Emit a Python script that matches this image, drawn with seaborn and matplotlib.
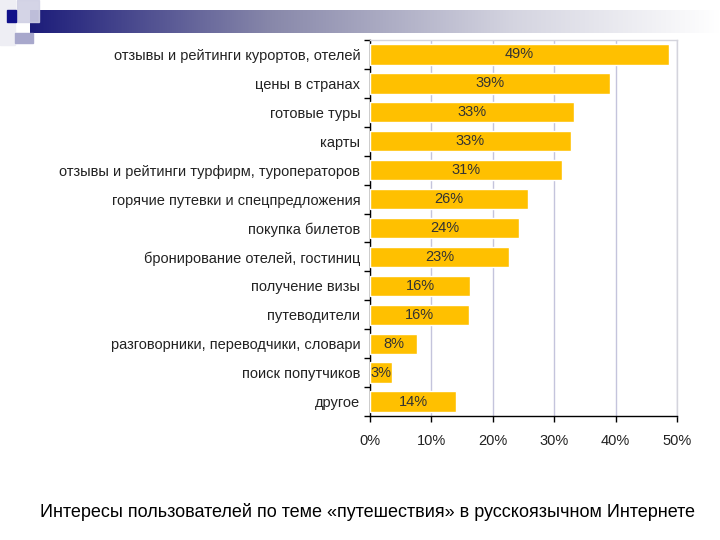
import numpy as np
import pandas as pd
import matplotlib
matplotlib.use("Agg")
import matplotlib.pyplot as plt
import seaborn as sns
from matplotlib.patches import Rectangle

categories = [
    "отзывы и рейтинги курортов, отелей",
    "цены в странах",
    "готовые туры",
    "карты",
    "отзывы и рейтинги турфирм, туроператоров",
    "горячие путевки и спецпредложения",
    "покупка билетов",
    "бронирование отелей, гостиниц",
    "получение визы",
    "путеводители",
    "разговорники, переводчики, словари",
    "поиск попутчиков",
    "другое",
]
values = [48.7, 39.1, 33.2, 32.7, 31.3, 25.7, 24.3, 22.6, 16.3, 16.1, 7.7, 3.6, 14.0]
labels = ["49%", "39%", "33%", "33%", "31%", "26%", "24%", "23%", "16%", "16%", "8%", "3%", "14%"]
xticks = [0, 10, 20, 30, 40, 50]
caption = "Интересы пользователей по теме «путешествия» в русскоязычном Интернете"

sns.set_theme(style="white")
plt.rcParams["font.family"] = ["Liberation Sans", "DejaVu Sans"]

fig = plt.figure(figsize=(7.2, 5.4), dpi=100)

# decorative header
deco = fig.add_axes([0, 0, 1, 1], zorder=-5)
deco.set_xlim(0, 720)
deco.set_ylim(540, 0)
deco.axis("off")
grad = np.linspace(0, 1, 256)
cmap = matplotlib.colors.LinearSegmentedColormap.from_list(
    "g", [(0.0, "#1c1c7a"), (0.35, "#8888aa"), (0.7, "#d4d4e0"), (1.0, "#ffffff")])
deco.imshow(grad[np.newaxis, :], cmap=cmap, aspect="auto",
            extent=[30, 720, 33, 10], zorder=1)
deco.add_patch(Rectangle((0, 0), 15, 45, color="#eeeef4", zorder=0))
deco.add_patch(Rectangle((17, 0), 22, 22, color="#d0d0e4", zorder=2, alpha=0.9))
deco.add_patch(Rectangle((7, 10), 9, 12, color="#10108a", zorder=3))
deco.add_patch(Rectangle((15, 33), 18, 10, color="#a8a8cc", zorder=2))

ax = fig.add_axes([370 / 720, 1 - 416 / 540, 307 / 720, 376 / 540])
df = pd.DataFrame({"cat": categories, "val": values})
sns.barplot(data=df, y="cat", x="val", orient="h", color="#FFC000",
            saturation=1, width=0.7, ax=ax, zorder=3)

for i, (v, lab) in enumerate(zip(values, labels)):
    ax.text(v / 2, i, lab, ha="center", va="center", fontsize=10.5,
            color="#333333", zorder=4)

ax.set_xlim(0, 50)
ax.set_ylim(len(categories) - 0.5, -0.5)
ax.set_xticks(xticks)
ax.set_xticklabels([f"{t}%" for t in xticks], fontsize=10.5, color="#222222")
ax.tick_params(axis="y", labelsize=10.5, colors="#222222", length=0, pad=7)
ax.set_yticks(np.arange(-0.5, len(categories)), minor=True)
ax.tick_params(axis="y", which="minor", length=4, width=1, color="black", left=True)
ax.tick_params(axis="x", length=4, width=1, color="black", bottom=True,
               direction="out", pad=9)
ax.set_xlabel("")
ax.set_ylabel("")
ax.xaxis.grid(True, color="#c4c4dc", linewidth=1, zorder=0)
ax.set_axisbelow(True)
for s in ["left", "bottom"]:
    ax.spines[s].set_color("black")
    ax.spines[s].set_linewidth(1)
for s in ["top", "right"]:
    ax.spines[s].set_color("#d4d4dc")
    ax.spines[s].set_linewidth(1)

fig.text(367 / 720, 1 - 512 / 540, caption, ha="center", va="center",
         fontsize=13, color="black",
         family=["Liberation Sans Narrow", "Liberation Sans", "DejaVu Sans"])

fig.savefig("out.png", dpi=100)
